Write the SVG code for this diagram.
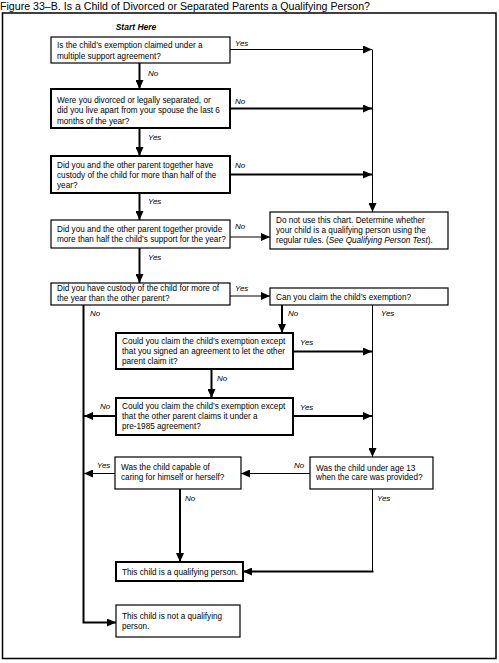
<svg xmlns="http://www.w3.org/2000/svg" width="499" height="663" viewBox="0 0 499 663">
<style>
text{font-family:"Liberation Sans",Arial,sans-serif;fill:#000}
.t{font-size:10px}
.b{font-size:8.2px}
.l{font-size:8px;font-style:italic}
.sh{font-size:8.5px;font-style:italic;font-weight:bold}
.bx{fill:#fff;stroke:#000;stroke-width:1.2}
.bk{fill:#fff;stroke:#000;stroke-width:2}
.c1{fill:none;stroke:#000;stroke-width:1}
.c2{fill:none;stroke:#000;stroke-width:2}
</style>
<defs>
<marker id="ah" markerUnits="userSpaceOnUse" markerWidth="9" markerHeight="8" refX="9" refY="4" orient="auto"><path d="M0,0 L9,4 L0,8 z" fill="#000"/></marker>
</defs>
<rect width="499" height="663" fill="#fff"/>
<text class="t" x="0" y="10" textLength="370" lengthAdjust="spacingAndGlyphs">Figure 33–B. Is a Child of Divorced or Separated Parents a Qualifying Person?</text>
<rect x="2.5" y="13" width="493.5" height="645.5" fill="none" stroke="#000" stroke-width="1.5"/>
<text class="sh" x="136" y="30" text-anchor="middle">Start Here</text>

<g id="connectors">
<path class="c2" d="M139.5,63 V89" marker-end="url(#ah)"/>
<path class="c1" d="M230,49.5 H372" marker-end="url(#ah)"/>
<path class="c1" d="M372.5,49.5 V212" marker-end="url(#ah)"/>
<path class="c2" d="M230,108.5 H372" marker-end="url(#ah)"/>
<path class="c2" d="M139.5,128 V156" marker-end="url(#ah)"/>
<path class="c2" d="M230,174.5 H372" marker-end="url(#ah)"/>
<path class="c2" d="M139.5,193 V220" marker-end="url(#ah)"/>
<path class="c1" d="M230,237 H270" marker-end="url(#ah)"/>
<path class="c2" d="M139.5,248 V283" marker-end="url(#ah)"/>
<path class="c1" d="M230,296 H270" marker-end="url(#ah)"/>
<path class="c2" d="M83.5,305 V622.5 H116" marker-end="url(#ah)"/>
<path class="c2" d="M282,305 V333" marker-end="url(#ah)"/>
<path class="c1" d="M372.5,305 V457" marker-end="url(#ah)"/>
<path class="c2" d="M293,351.5 H372" marker-end="url(#ah)"/>
<path class="c2" d="M211.5,369 V398" marker-end="url(#ah)"/>
<path class="c2" d="M293,416 H372" marker-end="url(#ah)"/>
<path class="c2" d="M116,416 H84" marker-end="url(#ah)"/>
<path class="c1" d="M115,473.5 H84" marker-end="url(#ah)"/>
<path class="c2" d="M180,489 V562" marker-end="url(#ah)"/>
<path class="c1" d="M310,473.5 H241" marker-end="url(#ah)"/>
<path class="c1" d="M372.5,489 V571.5"/>
<path class="c2" d="M373.5,571.5 H243" marker-end="url(#ah)"/>
<text class="l" x="235" y="46">Yes</text>
<text class="l" x="148" y="76">No</text>
<text class="l" x="235" y="104">No</text>
<text class="l" x="148" y="140">Yes</text>
<text class="l" x="235" y="168">No</text>
<text class="l" x="148" y="204">Yes</text>
<text class="l" x="235" y="229">No</text>
<text class="l" x="148" y="260">Yes</text>
<text class="l" x="235" y="291">Yes</text>
<text class="l" x="90" y="316">No</text>
<text class="l" x="288" y="316">No</text>
<text class="l" x="381" y="316">Yes</text>
<text class="l" x="300" y="345">Yes</text>
<text class="l" x="217" y="381">No</text>
<text class="l" x="100" y="409">No</text>
<text class="l" x="300" y="410">Yes</text>
<text class="l" x="97" y="468">Yes</text>
<text class="l" x="294" y="468">No</text>
<text class="l" x="185" y="501">No</text>
<text class="l" x="377" y="501">Yes</text>
</g>

<g id="q1"><rect class="bx" x="51" y="37" width="179" height="26"/>
<text class="b" x="57" y="47.5">Is the child’s exemption claimed under a</text>
<text class="b" x="57" y="58.5">multiple support agreement?</text></g>

<g id="q2"><rect class="bk" x="51" y="89" width="179" height="39"/>
<text class="b" x="57" y="102.5">Were you divorced or legally separated, or</text>
<text class="b" x="57" y="113">did you live apart from your spouse the last 6</text>
<text class="b" x="57" y="123.5">months of the year?</text></g>

<g id="q3"><rect class="bk" x="51" y="156" width="179" height="37"/>
<text class="b" x="57" y="167.5">Did you and the other parent together have</text>
<text class="b" x="57" y="177.5">custody of the child for more than half of the</text>
<text class="b" x="57" y="187.5">year?</text></g>

<g id="q4"><rect class="bx" x="51" y="220" width="179" height="28"/>
<text class="b" x="57" y="231.5">Did you and the other parent together provide</text>
<text class="b" x="57" y="242">more than half the child’s support for the year?</text></g>

<g id="donotuse"><rect class="bx" x="270" y="212" width="178" height="37"/>
<text class="b" x="276" y="223">Do not use this chart. Determine whether</text>
<text class="b" x="276" y="233">your child is a qualifying person using the</text>
<text class="b" x="276" y="243">regular rules. (<tspan font-style="italic">See Qualifying Person Test</tspan>).</text></g>

<g id="q5"><rect class="bx" x="51" y="283" width="179" height="22"/>
<text class="b" x="57" y="291">Did you have custody of the child for more of</text>
<text class="b" x="57" y="301">the year than the other parent?</text></g>

<g id="q6"><rect class="bx" x="270" y="288" width="178" height="17"/>
<text class="b" x="276" y="299.5">Can you claim the child’s exemption?</text></g>

<g id="q7"><rect class="bk" x="116" y="333" width="177" height="36"/>
<text class="b" x="122" y="344">Could you claim the child’s exemption except</text>
<text class="b" x="122" y="354">that you signed an agreement to let the other</text>
<text class="b" x="122" y="364">parent claim it?</text></g>

<g id="q8"><rect class="bk" x="116" y="398" width="177" height="37"/>
<text class="b" x="122" y="409">Could you claim the child’s exemption except</text>
<text class="b" x="122" y="419">that the other parent claims it under a</text>
<text class="b" x="122" y="429">pre-1985 agreement?</text></g>

<g id="q9"><rect class="bx" x="115" y="457" width="126" height="32"/>
<text class="b" x="121" y="470">Was the child capable of</text>
<text class="b" x="121" y="479.5">caring for himself or herself?</text></g>

<g id="q10"><rect class="bx" x="310" y="457" width="123" height="32"/>
<text class="b" x="316" y="470.5">Was the child under age 13</text>
<text class="b" x="316" y="480">when the care was provided?</text></g>

<g id="qualifying"><rect class="bk" x="116" y="562" width="127" height="19"/>
<text class="b" x="122" y="574.5">This child is a qualifying person.</text></g>

<g id="notqualifying"><rect class="bx" x="116" y="605" width="124" height="32"/>
<text class="b" x="122" y="619">This child is not a qualifying</text>
<text class="b" x="122" y="629">person.</text></g>
</svg>
